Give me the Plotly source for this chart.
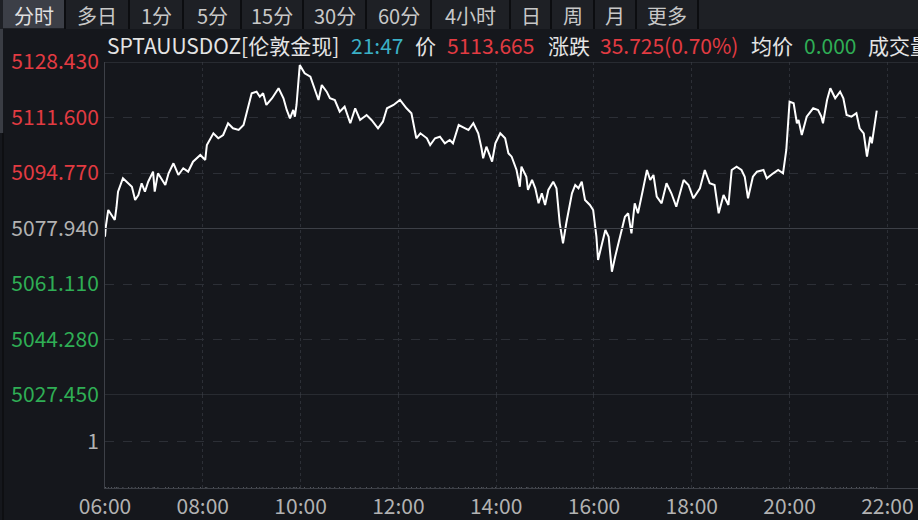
import pandas as pd
import plotly.graph_objects as go
from plotly.subplots import make_subplots

DAY = "2026-01-26"
PREV_CLOSE = 5077.94

# minute prices (HH:MM, price)
TIMES = [
    "06:00", "06:01", "06:04", "06:08", "06:12", "06:14", "06:16", "06:22", "06:29", "06:33",
    "06:37", "06:41", "06:45", "06:49", "06:53", "06:59", "07:01", "07:05", "07:14", "07:18",
    "07:24", "07:30", "07:36", "07:42", "07:48", "07:57", "08:03", "08:05", "08:13", "08:19",
    "08:25", "08:31", "08:37", "08:44", "08:50", "08:54", "09:00", "09:06", "09:10", "09:14",
    "09:18", "09:25", "09:33", "09:39", "09:43", "09:47", "09:51", "09:53", "09:55", "09:59",
    "10:05", "10:12", "10:16", "10:22", "10:26", "10:32", "10:36", "10:42", "10:48", "10:54",
    "11:01", "11:07", "11:13", "11:21", "11:27", "11:35", "11:41", "11:46", "11:54", "12:02",
    "12:10", "12:16", "12:22", "12:27", "12:35", "12:39", "12:45", "12:51", "12:57", "13:03",
    "13:07", "13:14", "13:22", "13:26", "13:32", "13:38", "13:42", "13:44", "13:48", "13:55",
    "13:59", "14:05", "14:11", "14:15", "14:19", "14:25", "14:29", "14:31", "14:37", "14:39",
    "14:44", "14:48", "14:52", "14:56", "15:00", "15:04", "15:10", "15:14", "15:18", "15:22",
    "15:26", "15:33", "15:37", "15:41", "15:45", "15:49", "15:55", "15:59", "16:03", "16:05",
    "16:10", "16:14", "16:18", "16:22", "16:26", "16:32", "16:38", "16:42", "16:46", "16:50",
    "16:54", "17:00", "17:05", "17:09", "17:13", "17:17", "17:23", "17:29", "17:35", "17:41",
    "17:50", "17:56", "18:02", "18:10", "18:16", "18:22", "18:28", "18:33", "18:39", "18:45",
    "18:49", "18:55", "19:01", "19:05", "19:09", "19:15", "19:20", "19:28", "19:32", "19:40",
    "19:46", "19:52", "19:56", "20:00", "20:05", "20:09", "20:11", "20:15", "20:21", "20:29",
    "20:35", "20:39", "20:41", "20:46", "20:50", "20:56", "21:02", "21:06", "21:10", "21:16",
    "21:22", "21:26", "21:31", "21:35", "21:39", "21:41", "21:43", "21:47",
]
PRICES = [
    5075.45, 5078.49, 5083.55, 5082.03, 5080.52, 5084.16, 5089.10, 5093.17, 5091.65, 5090.62,
    5086.58, 5088.10, 5091.65, 5089.10, 5092.13, 5095.17, 5089.10, 5094.68, 5091.13, 5094.68,
    5097.72, 5094.17, 5096.20, 5095.17, 5098.20, 5100.23, 5098.72, 5103.27, 5106.81, 5105.30,
    5106.30, 5109.85, 5108.33, 5107.82, 5109.33, 5112.88, 5118.95, 5119.43, 5117.91, 5118.95,
    5115.40, 5117.43, 5120.46, 5117.43, 5113.88, 5111.36, 5113.88, 5111.85, 5115.40, 5127.53,
    5125.01, 5123.98, 5120.95, 5116.91, 5121.46, 5119.43, 5117.43, 5116.91, 5113.37, 5114.88,
    5109.85, 5114.40, 5110.85, 5112.36, 5110.85, 5108.33, 5110.33, 5114.40, 5115.40, 5116.91,
    5114.40, 5112.88, 5105.30, 5106.81, 5105.30, 5103.27, 5105.30, 5105.78, 5103.78, 5104.78,
    5103.78, 5109.33, 5108.33, 5107.82, 5109.85, 5106.81, 5102.26, 5099.23, 5102.75, 5098.20,
    5103.78, 5106.81, 5105.30, 5100.75, 5099.72, 5095.68, 5090.62, 5096.68, 5093.65, 5089.62,
    5092.65, 5090.13, 5085.58, 5088.62, 5085.07, 5089.62, 5092.13, 5090.13, 5079.52, 5073.45,
    5079.52, 5088.62, 5091.13, 5090.13, 5092.13, 5086.58, 5085.07, 5083.55, 5075.45, 5068.39,
    5073.45, 5077.49, 5075.45, 5064.84, 5069.39, 5075.45, 5081.52, 5082.55, 5076.48, 5085.58,
    5082.55, 5089.62, 5095.68, 5092.65, 5094.17, 5087.58, 5085.58, 5091.65, 5088.62, 5084.55,
    5092.65, 5091.13, 5087.10, 5090.13, 5095.68, 5091.65, 5091.13, 5082.55, 5088.10, 5085.07,
    5095.68, 5096.68, 5095.68, 5093.65, 5087.10, 5093.65, 5095.17, 5095.68, 5093.17, 5094.68,
    5095.68, 5094.68, 5101.75, 5116.40, 5115.91, 5109.85, 5110.85, 5106.30, 5111.85, 5114.40,
    5113.88, 5111.85, 5109.85, 5116.91, 5120.46, 5117.43, 5119.43, 5117.43, 5112.36, 5111.85,
    5112.88, 5108.33, 5106.81, 5099.72, 5105.78, 5103.78, 5107.30, 5113.665,
]
VOLUME = [0] * len(TIMES)

PRICE_TICKS = [5027.45, 5044.28, 5061.11, 5077.94, 5094.77, 5111.60, 5128.43]
X_TICKS = ["06:00", "08:00", "10:00", "12:00", "14:00", "16:00", "18:00", "20:00", "22:00"]
TABS = ["分时", "多日", "1分", "5分", "15分", "30分", "60分", "4小时", "日", "周", "月", "更多"]

BG = "#15171c"
GRID = "#2c2f36"
SOLID = "#3d4047"
RED = "#e23b42"
GREEN = "#2fae55"
CYAN = "#3bb0c6"
GRAY = "#b2b2b2"
WHITE = "#e4e4e4"
FONT = "Noto Sans CJK SC"

W, H = 918, 520
L, R, T, B = 105, 0, 62, 32
PLOT_W, PLOT_H = W - L - R, H - T - B


def px(x):
    # screen pixel -> paper fraction
    return (x - L) / PLOT_W


def py(y):
    return (H - B - y) / PLOT_H


times = pd.to_datetime([f"{DAY} {t}" for t in TIMES])
x_range = [pd.Timestamp(f"{DAY} 06:00"), pd.Timestamp(f"{DAY} 22:37:36")]

fig = make_subplots(rows=2, cols=1, shared_xaxes=True, vertical_spacing=0,
                    row_heights=[333, 93])

fig.add_trace(go.Scatter(x=times, y=PRICES, mode="lines",
                         line=dict(color="#ffffff", width=2), hoverinfo="skip"),
              row=1, col=1)
fig.add_trace(go.Bar(x=times, y=VOLUME, marker_color=RED, hoverinfo="skip"),
              row=2, col=1)


def tick_label(v):
    if abs(v - PREV_CLOSE) < 1e-6:
        c = GRAY
    elif v > PREV_CLOSE:
        c = RED
    else:
        c = GREEN
    return f"<span style='color:{c}'>{v:.3f}</span>"


fig.update_yaxes(row=1, col=1, range=[PRICE_TICKS[0], PRICE_TICKS[-1]],
                 tickvals=PRICE_TICKS, ticktext=[tick_label(v) for v in PRICE_TICKS],
                 tickfont=dict(size=21),
                 showgrid=True, gridcolor=GRID, griddash="dash", gridwidth=1,
                 zeroline=False, showline=True, linecolor=SOLID, linewidth=1,
                 ticks="outside", ticklen=1, tickcolor=BG)
fig.update_yaxes(row=2, col=1, range=[0, 2], tickvals=[1], ticktext=["1"],
                 tickfont=dict(size=21, color=GRAY),
                 showgrid=True, gridcolor=GRID, griddash="dash", gridwidth=1,
                 zeroline=False, showline=True, linecolor=SOLID, linewidth=1,
                 ticks="outside", ticklen=1, tickcolor=BG)

x_ticks = pd.to_datetime([f"{DAY} {t}" for t in X_TICKS])
fig.update_xaxes(range=x_range, tickvals=x_ticks, ticktext=X_TICKS,
                 showgrid=True, gridcolor=GRID, griddash="dot", gridwidth=1,
                 zeroline=False, showline=False)
fig.update_xaxes(row=1, col=1, showticklabels=False)
fig.update_xaxes(row=2, col=1, tickfont=dict(size=21, color=GRAY), ticks="",
                 showline=True, linecolor=SOLID)

# solid reference lines: top border, previous close, panel divider
for v in [PRICE_TICKS[-1], PREV_CLOSE, PRICE_TICKS[0]]:
    fig.add_hline(y=v, line=dict(color=SOLID, width=1), row=1, col=1)

# toolbar strip
fig.add_shape(type="rect", xref="paper", yref="paper", x0=px(0), x1=px(W),
              y0=py(29), y1=py(0), fillcolor="#1e2025", line_width=0, layer="below")
tab_edges = [3, 65, 129, 183, 241, 303, 366, 431, 510, 551, 594, 636, 698]
for i, name in enumerate(TABS):
    x0, x1 = tab_edges[i], tab_edges[i + 1]
    if i == 0:
        fig.add_shape(type="rect", xref="paper", yref="paper", x0=px(x0), x1=px(x1 - 1),
                      y0=py(28), y1=py(0), fillcolor="#3c3f47", line_width=0)
    fig.add_shape(type="line", xref="paper", yref="paper", x0=px(x1), x1=px(x1),
                  y0=py(29), y1=py(0), line=dict(color="#0c0d10", width=2))
    fig.add_annotation(xref="paper", yref="paper", x=px((x0 + x1) / 2), y=py(15),
                       text=name, showarrow=False, xanchor="center", yanchor="middle",
                       font=dict(size=20, color="#e0e0e0" if i == 0 else "#c8c8c8"))

# left edge strip
fig.add_shape(type="rect", xref="paper", yref="paper", x0=px(0), x1=px(3),
              y0=py(133), y1=py(29), fillcolor="#3a3d44", line_width=0)
fig.add_shape(type="line", xref="paper", yref="paper", x0=px(3), x1=px(3),
              y0=py(H), y1=py(133), line=dict(color="#0e0f12", width=2))

# info row, one piece per colour, laid out like the reference
info = [
    ("SPTAUUSDOZ[伦敦金现]", WHITE, 105),
    ("21:47", CYAN, 349),
    ("价", WHITE, 413),
    ("5113.665", RED, 445),
    ("涨跌", WHITE, 546),
    ("35.725(0.70%)", RED, 598),
    ("均价", WHITE, 749),
    ("0.000", GREEN, 802),
    ("成交量", WHITE, 866),
]
for text, color, x in info:
    fig.add_annotation(xref="paper", yref="paper", x=px(x), y=py(45), text=text,
                       showarrow=False, xanchor="left", yanchor="middle",
                       font=dict(size=21, color=color))

fig.update_layout(
    width=W, height=H,
    margin=dict(l=L, r=R, t=T, b=B, autoexpand=False),
    paper_bgcolor=BG, plot_bgcolor=BG,
    showlegend=False,
    font=dict(family=FONT, size=20, color=GRAY),
)

fig.write_html("out.html", config={"displayModeBar": False},
               post_script="document.body.style.margin='0';")
